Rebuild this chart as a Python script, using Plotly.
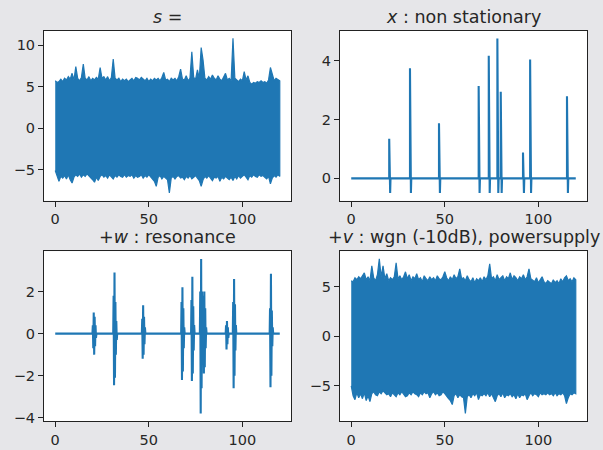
import plotly.graph_objects as go

# ---------------- data ----------------
t_grid = list(range(121))  # 0 .. 120

s_upper = [5.7, 5.5, 5.6, 5.9, 5.6, 6.0, 5.8, 6.2, 5.9, 6.6, 5.8, 7.4, 6.0, 5.7, 6.1, 7.7, 6.0, 5.8, 6.2, 5.7,
           6.0, 5.8, 6.1, 5.9, 7.3, 6.0, 6.2, 5.8, 6.2, 5.7, 6.1, 8.3, 6.0, 5.8, 6.0, 5.6, 5.9, 5.7, 5.9, 5.6,
           5.8, 6.0, 5.7, 6.1, 6.0, 5.8, 6.1, 5.9, 5.7, 6.0, 5.6, 5.9, 5.7, 6.0, 5.8, 6.0, 5.7, 6.1, 6.7, 5.8,
           5.9, 5.6, 6.0, 5.8, 6.0, 5.7, 6.2, 7.1, 5.9, 5.8, 6.3, 5.7, 6.0, 9.2, 6.1, 5.9, 7.0, 6.0, 9.7, 8.2,
           6.0, 5.8, 6.2, 5.9, 6.4, 6.0, 5.8, 6.3, 5.9, 5.7, 6.1, 6.6, 5.8, 6.0, 5.7, 10.8, 6.0, 5.8, 5.6, 5.9,
           5.7, 6.8, 5.8, 6.3, 5.5, 5.3, 5.5, 5.4, 5.6, 5.5, 5.7, 5.5, 5.6, 5.4, 5.8, 7.3, 6.5, 5.7, 6.0, 5.8, 5.7]
s_lower = [-5.1, -5.6, -6.4, -5.8, -6.0, -5.7, -6.1, -5.6, -6.2, -6.6, -5.9, -5.6, -5.8, -5.5, -5.9, -5.6, -5.8, -5.5, -5.7, -6.0,
           -6.2, -6.5, -5.9, -6.3, -5.8, -5.6, -5.9, -5.7, -6.0, -5.6, -5.8, -6.1, -5.7, -5.9, -5.6, -5.8, -5.9, -5.6, -5.9, -5.7,
           -5.8, -5.6, -6.0, -5.7, -5.9, -5.8, -5.6, -6.0, -5.7, -5.9, -5.6, -5.8, -6.1, -6.4, -7.0, -5.9, -5.7, -6.1, -5.8, -6.0,
           -6.2, -7.8, -6.0, -5.8, -6.1, -5.8, -5.7, -6.0, -5.9, -6.2, -5.8, -6.0, -5.7, -6.1, -5.9, -5.7, -6.0, -6.3, -7.0, -6.2,
           -5.8, -6.0, -5.7, -6.0, -6.3, -5.9, -6.0, -5.8, -6.4, -5.9, -6.1, -5.8, -6.0, -6.2, -5.9, -6.3, -5.8, -6.1, -5.7, -6.0,
           -5.8, -5.6, -5.9, -6.2, -5.7, -5.9, -5.6, -5.8, -5.9, -5.6, -5.8, -5.7, -5.9, -6.1, -5.8, -6.7, -6.0, -5.7, -5.9, -5.6, -5.8]

v_upper = [5.6, 5.5, 5.9, 5.7, 6.0, 5.8, 6.1, 6.4, 5.7, 6.0, 5.6, 7.1, 5.9, 5.6, 6.2, 7.8, 6.0, 7.1, 5.8, 6.3,
           5.6, 5.9, 5.7, 6.0, 7.4, 5.8, 6.1, 5.7, 6.0, 6.5, 5.8, 6.2, 5.6, 6.0, 5.8, 6.3, 5.7, 5.9, 5.5, 6.1,
           5.8, 5.6, 6.0, 5.7, 5.9, 5.6, 6.1, 5.8, 5.7, 6.0, 6.5, 5.9, 5.6, 6.0, 5.7, 6.2, 5.8, 6.0, 6.8, 5.8,
           5.9, 5.6, 6.1, 5.7, 5.5, 5.9, 5.4, 5.8, 5.6, 5.9, 5.5, 6.0, 5.7, 6.1, 7.3, 5.8, 6.0, 5.6, 6.2, 5.7,
           5.9, 6.1, 5.6, 6.0, 5.8, 6.4, 5.7, 6.1, 5.9, 5.6, 6.0, 5.8, 6.2, 5.7, 6.0, 6.8, 5.8, 5.6, 5.5, 5.9,
           5.4, 5.7, 6.0, 5.5, 5.3, 5.6, 5.4, 5.3, 5.7, 5.4, 5.6, 5.3, 5.8, 5.5, 5.9, 6.1, 5.6, 5.8, 5.5, 5.9, 5.7]
v_lower = [-5.0, -6.0, -6.4, -5.7, -6.2, -5.8, -6.3, -5.7, -6.5, -6.0, -6.6, -5.8, -5.6, -5.9, -6.0, -5.6, -5.8, -5.5, -5.7, -5.9,
           -5.8, -6.1, -5.7, -5.9, -6.1, -5.7, -5.9, -5.6, -5.8, -6.1, -6.0, -5.7, -5.9, -5.6, -5.8, -5.9, -6.1, -5.7, -5.9, -5.6,
           -5.8, -5.7, -6.2, -5.8, -5.6, -5.9, -5.7, -6.0, -5.9, -5.6, -5.8, -6.0, -6.3, -6.5, -6.9, -6.0, -5.8, -6.2, -5.9, -6.1,
           -6.2, -7.8, -6.1, -5.9, -6.2, -5.8, -6.0, -5.7, -6.4, -5.9, -6.0, -5.8, -6.0, -5.7, -6.1, -5.8, -6.2, -6.6, -6.0, -5.8,
           -6.1, -5.7, -6.2, -5.9, -6.0, -5.8, -6.1, -5.9, -6.3, -5.8, -6.2, -5.9, -6.0, -5.8, -6.4, -6.0, -5.7, -6.0, -5.8, -5.9,
           -6.1, -5.7, -5.9, -5.8, -5.9, -5.7, -5.9, -5.8, -6.0, -5.7, -6.0, -5.8, -5.9, -5.7, -6.0, -6.8, -6.2, -5.8, -5.9, -5.7, -5.8]

# non-stationary impulses
spike_times = [20.3, 31.4, 46.9, 68.1, 73.5, 78.1, 79.9, 91.8, 95.6, 115.3]
spike_heights = [1.35, 3.75, 1.88, 3.15, 4.18, 4.77, 2.95, 0.88, 4.05, 2.8]
spike_dips = [-0.5, -0.5, -0.5, -0.5, -0.5, -0.5, -0.5, -0.5, -0.5, -0.5]

# resonance bursts: start time and successive extrema
burst_times = [19.9, 31.0, 46.3, 67.3, 72.6, 77.3, 79.0, 91.1, 94.9, 114.6]
burst_extrema = [
    [0.4, -0.7, 1.0, -1.0, 0.8, -0.6, 0.4, -0.2],
    [1.8, -2.45, 2.9, -2.1, 1.5, -1.0, 0.6, -0.3],
    [0.7, -1.2, 1.35, -1.0, 0.8, -0.5, 0.3],
    [1.5, -2.2, 2.2, -1.8, 1.2, -0.7, 0.3],
    [1.6, -2.25, 2.7, -1.9, 1.3, -0.8, 0.4],
    [2.0, -3.8, 3.55, -2.6, 2.0, -1.4],
    [1.8, -1.9, 2.0, -1.6, 1.2, -0.7, 0.3],
    [0.4, -0.75, 0.6, -0.5, 0.3, -0.2],
    [1.5, -2.6, 2.6, -2.0, 1.4, -0.8, 0.4],
    [1.2, -2.55, 2.85, -2.0, 1.1, -0.6, 0.3],
]

t_start, t_end = 0, 120
x_ticks = [0, 50, 100]

titles = ["<i>s</i> =", "<i>x</i> : non stationary", "+<i>w</i> : resonance",
          "+<i>v</i> : wgn (-10dB), powersupply"]

# ---------------- build series ----------------
COLOR = "#1f77b4"
LW = 2.1

# x : impulses
x_t, x_y = [t_start], [0]
for t, h, d in zip(spike_times, spike_heights, spike_dips):
    x_t += [t, t, t + 0.5, t + 0.7]
    x_y += [0, h, d, 0]
x_t.append(t_end)
x_y.append(0)

# w : bursts
w_t, w_y = [t_start], [0]
for t0, ext in zip(burst_times, burst_extrema):
    w_t.append(t0)
    w_y.append(0)
    for k, e in enumerate(ext):
        w_t.append(t0 + 0.2 + 0.24 * k)
        w_y.append(e)
    w_t.append(t0 + 0.2 + 0.24 * len(ext))
    w_y.append(0)
w_t.append(t_end)
w_y.append(0)

fig = go.Figure()


def band(upper, lower, xa, ya):
    fig.add_trace(go.Scatter(
        x=t_grid + t_grid[::-1], y=upper + lower[::-1],
        mode="lines", fill="toself", fillcolor=COLOR,
        line=dict(color=COLOR, width=1.2), xaxis=xa, yaxis=ya,
        showlegend=False, hoverinfo="skip"))


band(s_upper, s_lower, "x", "y")
fig.add_trace(go.Scatter(x=x_t, y=x_y, mode="lines", line=dict(color=COLOR, width=LW),
                         xaxis="x2", yaxis="y2", showlegend=False))
fig.add_trace(go.Scatter(x=w_t, y=w_y, mode="lines", line=dict(color=COLOR, width=LW),
                         xaxis="x3", yaxis="y3", showlegend=False))
band(v_upper, v_lower, "x4", "y4")


def pad_range(lo, hi):
    m = 0.05 * (hi - lo)
    return [lo - m, hi + m]


W, H = 603, 450
xdom = [[44 / W, 291 / W], [340 / W, 587 / W]]
ydom = [[1 - 203 / H, 1 - 31 / H], [1 - 426 / H, 1 - 254 / H]]

yranges = [
    pad_range(min(s_lower), max(s_upper)),
    pad_range(min(spike_dips), max(spike_heights)),
    pad_range(min(min(e) for e in burst_extrema), max(max(e) for e in burst_extrema)),
    pad_range(min(v_lower), max(v_upper)),
]
ydticks = [5, 2, 2, 5]

AX = "#222222"
FONT = "DejaVu Sans"
common = dict(showline=True, mirror=True, linecolor=AX, linewidth=1, ticks="outside",
              ticklen=5, tickwidth=1, tickcolor=AX, showgrid=False, zeroline=False,
              tickfont=dict(family=FONT, size=14.5, color="#262626"))

layout = dict(width=W, height=H, margin=dict(l=0, r=0, t=0, b=0),
              paper_bgcolor="#e6e6e9", plot_bgcolor="white", showlegend=False,
              annotations=[])

positions = [(0, 0), (1, 0), (0, 1), (1, 1)]
for i, (c, r) in enumerate(positions):
    sfx = "" if i == 0 else str(i + 1)
    layout["xaxis" + sfx] = dict(domain=xdom[c], range=pad_range(t_start, t_end),
                                 tickvals=x_ticks, anchor="y" + sfx, **common)
    layout["yaxis" + sfx] = dict(domain=ydom[r], range=yranges[i], dtick=ydticks[i],
                                 tick0=0, anchor="x" + sfx, **common)
    layout["annotations"].append(dict(
        text=titles[i], xref="paper", yref="paper",
        x=(xdom[c][0] + xdom[c][1]) / 2, y=ydom[r][1], xanchor="center", yanchor="bottom",
        yshift=2, showarrow=False, font=dict(family=FONT, size=17.5, color="#262626")))

fig.update_layout(**layout)
fig.write_html("out.html", config={"displayModeBar": False},
               post_script="document.body.style.margin='0';document.body.style.padding='0';")
